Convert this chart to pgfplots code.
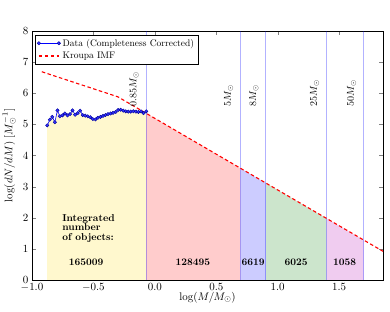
\documentclass[border=0pt]{standalone}
\usepackage{pgfplots}
\pgfplotsset{compat=1.18}
\usepackage{pgfplotstable}
\definecolor{fyel}{RGB}{255,248,206}
\definecolor{fred}{RGB}{255,204,204}
\definecolor{fblu}{RGB}{204,204,255}
\definecolor{fgrn}{RGB}{204,229,204}
\definecolor{fmag}{RGB}{240,204,240}
\pgfplotstableread{
x y
-0.876 4.97
-0.855 5.15
-0.835 5.24
-0.814 5.07
-0.793 5.45
-0.773 5.26
-0.752 5.29
-0.732 5.35
-0.711 5.29
-0.690 5.33
-0.670 5.45
-0.649 5.31
-0.628 5.36
-0.608 5.44
-0.587 5.30
-0.567 5.28
-0.546 5.26
-0.525 5.23
-0.505 5.17
-0.484 5.16
-0.464 5.21
-0.443 5.24
-0.422 5.27
-0.402 5.30
-0.381 5.33
-0.360 5.35
-0.340 5.37
-0.319 5.40
-0.299 5.46
-0.278 5.47
-0.257 5.44
-0.237 5.42
-0.216 5.41
-0.196 5.41
-0.175 5.42
-0.154 5.41
-0.134 5.40
-0.113 5.42
-0.092 5.36
-0.070 5.42
}\datatab
\pgfplotstableread{
x y
-0.920 6.690
-0.301 5.885
1.860 0.915
}\kroupatab
\begin{document}
\begin{tikzpicture}
\begin{axis}[
  scale only axis, width=351pt, height=249pt,
  xmin=-1.0, xmax=1.857, ymin=0, ymax=8,
  xtick={-1.0,-0.5,0,0.5,1.0,1.5},
  ytick={0,1,2,3,4,5,6,7,8},
  xticklabel style={/pgf/number format/.cd,fixed,fixed zerofill,precision=1},
  tick label style={font=\fontsize{11}{13}\selectfont},
  label style={font=\fontsize{11}{13}\selectfont},
  tick align=inside,
  xlabel={$\log(M/M_\odot)$},
  ylabel={$\log(dN/dM)$ $[M_\odot^{-1}]$},
  xlabel style={at={(axis description cs:0.5,-0.07)},anchor=center},
  ylabel style={at={(axis description cs:-0.065,0.5)},anchor=center},
  legend style={at={(0.008,0.985)},anchor=north west,draw=black,
    font=\fontsize{9.5}{11}\selectfont,inner xsep=2pt,inner ysep=2pt,row sep=0.5pt,
    legend cell align=left},
]
% filled regions
\addplot[fill=fyel,draw=none,forget plot] table {\datatab} \closedcycle;
\addplot[fill=fred,draw=none,forget plot] coordinates {(-0.0706,0) (-0.0706,5.355) (0.699,3.585) (0.699,0)} -- cycle;
\addplot[fill=fblu,draw=none,forget plot] coordinates {(0.699,0) (0.699,3.585) (0.903,3.116) (0.903,0)} -- cycle;
\addplot[fill=fgrn,draw=none,forget plot] coordinates {(0.903,0) (0.903,3.116) (1.398,1.977) (1.398,0)} -- cycle;
\addplot[fill=fmag,draw=none,forget plot] coordinates {(1.398,0) (1.398,1.977) (1.699,1.285) (1.699,0)} -- cycle;
% vertical lines
\addplot[blue,opacity=0.3,line width=0.8pt,forget plot] coordinates {(-0.0706,0) (-0.0706,8)};
\addplot[blue,opacity=0.3,line width=0.8pt,forget plot] coordinates {(0.699,0) (0.699,8)};
\addplot[blue,opacity=0.3,line width=0.8pt,forget plot] coordinates {(0.903,0) (0.903,8)};
\addplot[blue,opacity=0.3,line width=0.8pt,forget plot] coordinates {(1.398,0) (1.398,8)};
\addplot[blue,opacity=0.3,line width=0.8pt,forget plot] coordinates {(1.699,0) (1.699,8)};
% data
\addplot[blue,line width=0.6pt,mark=*,mark size=1.7pt,mark options={fill=blue!80,draw=blue!60!black,line width=0.4pt},
  legend image code/.code={
    \draw[blue,line width=0.6pt] (0cm,0cm) -- (0.7cm,0cm);
    \filldraw[fill=blue!80,draw=blue!60!black,line width=0.4pt] (0cm,0cm) circle (1.7pt);
    \filldraw[fill=blue!80,draw=blue!60!black,line width=0.4pt] (0.7cm,0cm) circle (1.7pt);}
  ] table {\datatab};
\addlegendentry{Data (Completeness Corrected)}
\addplot[red,line width=1.1pt,dash pattern=on 3.5pt off 2.5pt,
  legend image code/.code={\draw[red,line width=1.1pt,dash pattern=on 3.5pt off 2.5pt] (0cm,0cm) -- (0.7cm,0cm);}
  ] table {\kroupatab};
\addlegendentry{Kroupa IMF}
% labels
\node[rotate=90,anchor=south west,inner sep=0pt] at (axis cs:-0.13,5.58) {$0.85M_\odot$};
\node[rotate=90,anchor=south west,inner sep=0pt] at (axis cs:0.64,5.58) {$5M_\odot$};
\node[rotate=90,anchor=south west,inner sep=0pt] at (axis cs:0.845,5.58) {$8M_\odot$};
\node[rotate=90,anchor=south west,inner sep=0pt] at (axis cs:1.34,5.58) {$25M_\odot$};
\node[rotate=90,anchor=south west,inner sep=0pt] at (axis cs:1.64,5.58) {$50M_\odot$};
\node[anchor=north west,align=left,font=\bfseries,inner sep=0pt] at (axis cs:-0.755,2.12) {Integrated\\[-2.5pt]number\\[-2.5pt]of objects:};
\node[font=\bfseries] at (axis cs:-0.56,0.56) {165009};
\node[font=\bfseries] at (axis cs:0.31,0.56) {128495};
\node[font=\bfseries] at (axis cs:0.80,0.56) {6619};
\node[font=\bfseries] at (axis cs:1.15,0.56) {6025};
\node[font=\bfseries] at (axis cs:1.545,0.56) {1058};
\end{axis}
\pgfresetboundingbox
\path[use as bounding box] (-32pt,-32pt) rectangle (358pt,280pt);
\end{tikzpicture}
\end{document}
